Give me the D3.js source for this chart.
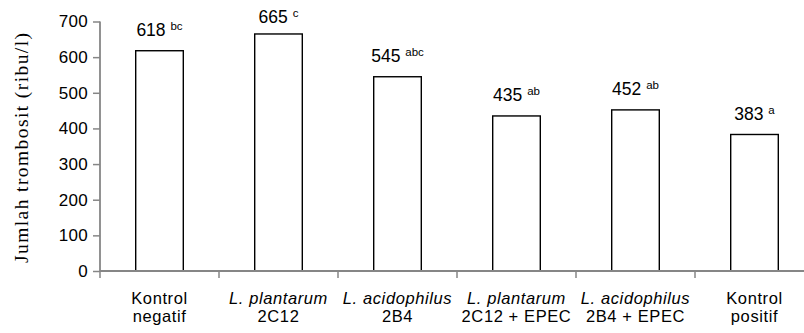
<!DOCTYPE html>
<html>
<head>
<meta charset="utf-8">
<script src="https://cdn.jsdelivr.net/npm/d3@7"></script>
<style>
  html, body { margin: 0; padding: 0; background: #fff; }
  svg { display: block; }
  .sans { font-family: "Liberation Sans Narrow", "Arial Narrow", "Liberation Sans", Arial, sans-serif; }
</style>
</head>
<body>
<div id="chart"></div>
<script>
const categories = ["Kontrol negatif", "L. plantarum 2C12", "L. acidophilus 2B4", "L. plantarum 2C12 + EPEC", "L. acidophilus 2B4 + EPEC", "Kontrol positif"];
const labelLine1 = ["Kontrol", "L. plantarum", "L. acidophilus", "L. plantarum", "L. acidophilus", "Kontrol"];
const labelLine2 = ["negatif", "2C12", "2B4", "2C12 + EPEC", "2B4 + EPEC", "positif"];
const line1Italic = [false, true, true, true, true, false];
const values = [618, 665, 545, 435, 452, 383];
const letters = ["bc", "c", "abc", "ab", "ab", "a"];
const yTicks = [0, 100, 200, 300, 400, 500, 600, 700];
const yTitle = "Jumlah trombosit (ribu/l)";

const W = 804, H = 333;
const svg = d3.select("#chart").append("svg").attr("width", W).attr("height", H);

const x = d3.scaleBand().domain(categories).range([100, 814]).paddingInner(0.6).paddingOuter(0.3);
const y = d3.scaleLinear().domain([0, 700]).range([271, 21.5]);
const step = x.step();

// bars
svg.append("g").selectAll("rect").data(values).join("rect")
  .attr("x", (d, i) => x(categories[i]))
  .attr("y", d => y(d))
  .attr("width", x.bandwidth())
  .attr("height", d => y(0) - y(d))
  .attr("fill", "#fff")
  .attr("stroke", "#000")
  .attr("stroke-width", 1.4);

// y axis
const yAxis = svg.append("g").attr("transform", "translate(100,0)")
  .call(d3.axisLeft(y).tickValues(yTicks).tickSize(7).tickPadding(5).tickFormat(d3.format("d")));
yAxis.select(".domain").attr("stroke", "#868686").attr("stroke-width", 1.8).attr("d", `M0,${y(700)}V${y(0)}`);
yAxis.selectAll(".tick line").attr("stroke", "#868686").attr("stroke-width", 1.5);
yAxis.selectAll(".tick text").attr("class", "sans").attr("font-size", 17).attr("letter-spacing", 0.3)
  .attr("fill", "#000").attr("font-family", null);

// x axis
const xAxis = svg.append("g").attr("transform", `translate(0,${y(0)})`);
xAxis.append("line").attr("x1", 100).attr("x2", W).attr("y1", 0).attr("y2", 0)
  .attr("stroke", "#868686").attr("stroke-width", 1.8);
const tickPos = d3.range(categories.length).map(i => x(categories[i]) - x.paddingOuter() * step);
xAxis.selectAll("line.t").data(tickPos).join("line").attr("class", "t")
  .attr("x1", d => d).attr("x2", d => d).attr("y1", 0).attr("y2", 7)
  .attr("stroke", "#868686").attr("stroke-width", 1.5);

// category labels
const cl = svg.append("g").attr("class", "sans").attr("font-size", 16.5).attr("letter-spacing", 0.6).attr("text-anchor", "middle");
categories.forEach((c, i) => {
  const cx = x(c) + x.bandwidth() / 2;
  cl.append("text").attr("x", cx).attr("y", 304).attr("font-style", line1Italic[i] ? "italic" : "normal").text(labelLine1[i]);
  cl.append("text").attr("x", cx).attr("y", 322).text(labelLine2[i]);
});

// value labels
const vl = svg.append("g").attr("class", "sans").attr("text-anchor", "middle");
values.forEach((v, i) => {
  const cx = x(categories[i]) + x.bandwidth() / 2;
  const ty = Math.max(y(v) - 14.5, 23);
  const t = vl.append("text").attr("x", cx).attr("y", ty).attr("font-size", 17.5);
  t.append("tspan").text(v + " ");
  t.append("tspan").attr("font-size", 11.5).attr("dy", -6).text(letters[i]);
});

// y title
svg.append("text")
  .attr("transform", `translate(28,148) rotate(-90)`)
  .attr("text-anchor", "middle")
  .attr("font-family", "'Liberation Serif', 'Times New Roman', serif")
  .attr("font-size", 19.5)
  .attr("textLength", 230)
  .attr("lengthAdjust", "spacing")
  .attr("fill", "#000")
  .text(yTitle);
</script>
</body>
</html>
